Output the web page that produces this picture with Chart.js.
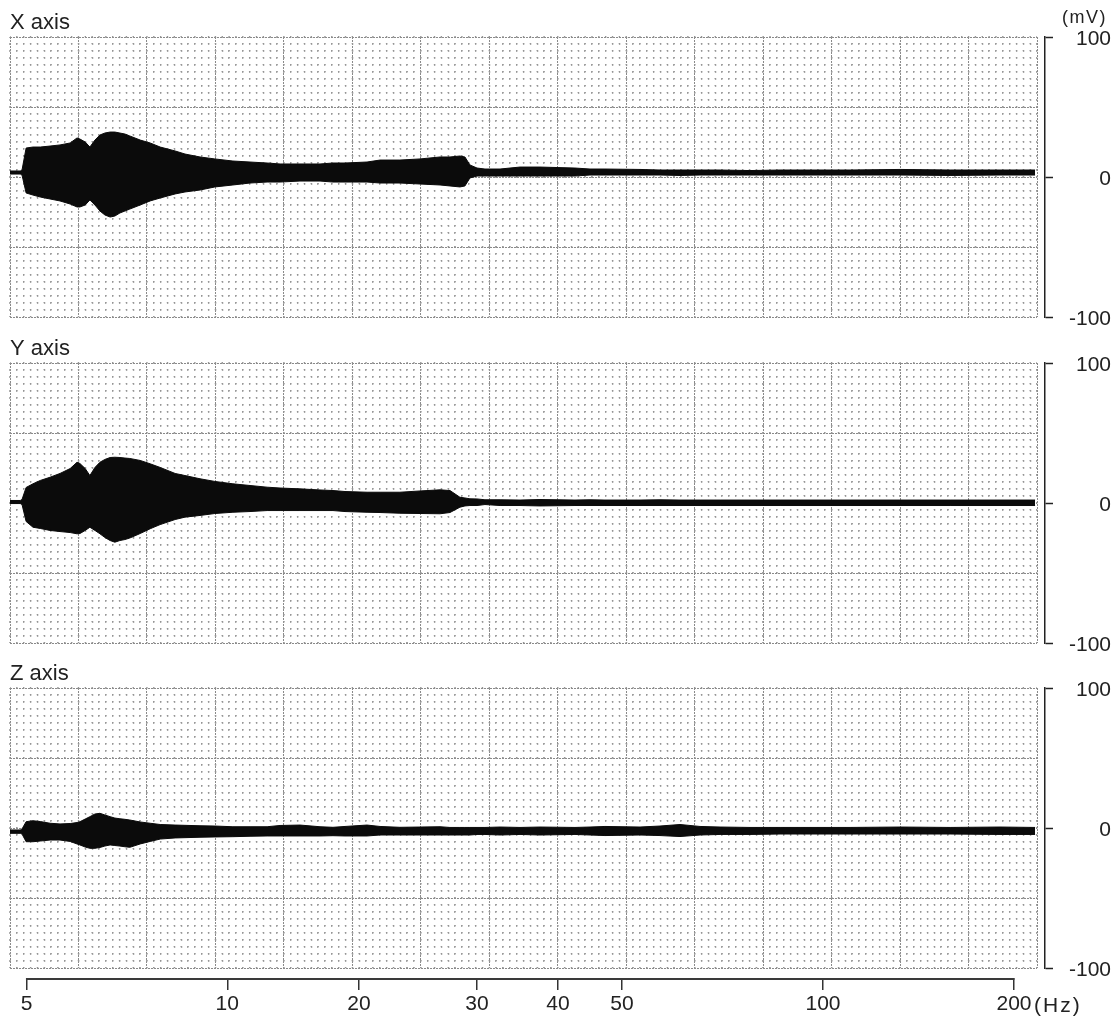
<!DOCTYPE html>
<html>
<head>
<meta charset="utf-8">
<title>Vibration sweep record – X / Y / Z axis</title>
<script src="https://cdn.jsdelivr.net/npm/chart.js@4.4.1/dist/chart.umd.min.js"></script>
<style>
  html, body { margin: 0; padding: 0; background: #fff; overflow: hidden; }
  body { width: 1119px; height: 1019px; position: relative; }
  canvas { position: absolute; left: 0; }
  .unit { position: absolute; font-family: "Liberation Sans", Arial, sans-serif; color: #222; white-space: nowrap; line-height: 1; }
</style>
</head>
<body>
<canvas id="panelX" width="1119" height="345" style="top:0px"></canvas>
<canvas id="panelY" width="1119" height="345" style="top:326px"></canvas>
<canvas id="panelZ" width="1119" height="368" style="top:651px"></canvas>
<div class="unit" style="left:1062px;top:8px;font-size:18px;letter-spacing:1.5px">(mV)</div>
<div class="unit" style="left:1034px;top:994px;font-size:21px;letter-spacing:2px">(Hz)</div>
<script>
// ---------------- data (read from the record) ----------------
const freqTicks = [5, 10, 20, 30, 40, 50, 100, 200];   // Hz tick labels
const ampTicks = [-100, 0, 100];                        // mV tick labels
const panelTitles = ['X axis', 'Y axis', 'Z axis'];

// sweep frequency of each envelope sample (Hz)
const freqHz = [4.72, 4.89, 4.92, 4.99, 5.11, 5.24, 5.42, 5.61, 5.81, 5.95,
  6.01, 6.12, 6.22, 6.33, 6.44, 6.55, 6.67, 6.78, 6.90, 7.02,
  7.14, 7.40, 7.66, 7.93, 8.35, 8.64, 9.10, 9.58, 10.30, 11.27,
  12.33, 13.20, 14.66, 16.29, 17.44, 18.58, 20.56, 21.50, 23.02, 24.67,
  26.42, 27.34, 28.29, 28.78, 29.28, 30.0, 30.86, 32.56, 34.95, 37.52,
  42.44, 44.72, 47.12, 53.20, 57.00, 61.07, 65.44, 70.12, 77.74, 86.23,
  92.38, 110.3, 132.3, 158.6, 190.1, 215.9];

// envelope of the response (mV): upper and lower edge of the trace
const xUpper = [4.3, 4.3, 5.0, 20.7, 21.4, 21.4, 22.1, 22.9, 24.3, 27.9,
  27.1, 25.0, 21.4, 26.4, 30.0, 31.4, 32.1, 32.1, 31.4, 30.7,
  29.3, 26.4, 24.3, 21.4, 18.6, 16.4, 14.3, 12.9, 11.4, 10.7,
  10.0, 9.3, 9.3, 9.3, 10.0, 10.0, 10.7, 12.1, 12.1, 12.9,
  14.3, 14.3, 15.0, 14.3, 8.6, 6.4, 5.7, 5.7, 7.1, 7.1,
  6.4, 5.7, 5.7, 5.4, 5.0, 5.0, 5.0, 5.0, 4.6, 5.0,
  5.0, 5.0, 5.4, 5.0, 5.0, 5.0];
const xLower = [2.1, 2.1, 1.4, -11.4, -12.9, -14.3, -15.7, -17.1, -19.3, -21.4,
  -21.4, -20.0, -16.4, -20.0, -24.3, -27.1, -28.6, -27.9, -25.7, -24.3,
  -22.9, -20.0, -17.1, -15.0, -12.1, -10.7, -9.3, -7.1, -5.7, -4.3,
  -3.6, -3.6, -2.9, -2.9, -3.6, -3.6, -3.6, -4.3, -4.3, -5.0,
  -5.7, -6.4, -7.1, -6.4, -0.7, 0.7, 0.7, 0.7, 0.7, 0.7,
  0.7, 1.4, 1.4, 1.4, 1.4, 1.1, 1.4, 1.4, 1.4, 1.4,
  1.4, 1.4, 1.4, 1.1, 1.4, 1.4];

const yUpper = [1.8, 1.8, 2.5, 11.1, 13.7, 16.1, 18.4, 21.1, 24.6, 29.1,
  28.2, 24.6, 19.6, 25.4, 29.1, 31.1, 32.5, 32.7, 32.5, 32.1,
  31.8, 30.4, 28.0, 25.4, 21.1, 19.6, 17.3, 15.4, 13.7, 12.5,
  11.3, 10.7, 10.1, 9.3, 8.9, 8.2, 7.7, 7.7, 7.7, 8.6,
  9.4, 8.9, 4.1, 3.6, 3.0, 2.9, 2.3, 2.3, 2.1, 2.5,
  2.1, 2.3, 2.1, 2.1, 2.3, 2.1, 2.1, 2.1, 2.1, 2.1,
  2.1, 2.1, 2.1, 2.1, 2.1, 2.1];
const yLower = [-0.4, -0.4, -1.1, -13.2, -17.3, -18.2, -19.6, -20.4, -21.1, -22.0,
  -21.8, -19.6, -17.3, -19.6, -22.0, -24.6, -26.8, -28.0, -26.8, -26.1,
  -25.0, -21.8, -18.4, -15.4, -11.8, -10.1, -8.9, -7.5, -6.6, -6.1,
  -5.4, -5.4, -5.4, -5.4, -5.4, -6.1, -6.6, -6.8, -7.3, -7.5,
  -7.7, -6.8, -3.0, -2.1, -1.8, -1.8, -1.1, -1.8, -1.8, -2.1,
  -1.8, -1.8, -1.8, -1.8, -1.8, -1.8, -1.8, -1.8, -1.8, -1.8,
  -1.8, -1.8, -1.8, -1.8, -1.8, -1.8];

const zUpper = [-1.4, -1.4, -0.7, 4.5, 5.2, 4.6, 3.4, 2.9, 3.2, 3.9,
  4.5, 6.4, 8.1, 10.0, 10.5, 9.3, 8.1, 7.1, 6.6, 6.2,
  5.7, 4.3, 3.4, 2.5, 2.1, 1.9, 1.6, 1.4, 0.9, 0.9,
  0.9, 1.8, 2.1, 0.9, 0.5, 1.1, 2.1, 1.1, 0.5, 0.7,
  0.9, 0.4, 0.4, 0.4, 0.4, 0.4, 0.4, 0.7, 0.4, 0.7,
  0.4, 0.7, 1.1, 0.7, 1.4, 2.5, 1.1, 0.7, 0.4, 0.4,
  0.4, 0.4, 0.7, 0.4, 0.7, 0.4];
const zLower = [-3.8, -3.8, -4.3, -9.8, -9.8, -9.3, -8.6, -8.6, -9.6, -11.4,
  -12.1, -13.6, -14.5, -14.5, -13.9, -12.9, -12.1, -12.5, -12.9, -13.4,
  -13.8, -11.4, -9.6, -7.9, -7.1, -6.9, -6.6, -6.4, -6.2, -5.9,
  -5.7, -5.7, -5.7, -5.7, -5.5, -5.7, -5.7, -5.0, -5.0, -5.0,
  -5.0, -5.0, -5.0, -5.0, -5.0, -4.6, -4.6, -5.0, -4.6, -5.0,
  -4.6, -5.0, -5.4, -5.0, -5.4, -6.1, -5.0, -4.6, -4.6, -4.3,
  -4.3, -4.3, -4.3, -4.3, -4.6, -4.6];

// ---------------- recorder frequency axis (layout) ----------------
// Where each frequency tick sits across the plot width (the chart paper is not a pure log scale).
const tickFractions = [0.01626, 0.21159, 0.33982, 0.45473, 0.53359, 0.59591, 0.79163, 0.97760];

const FONT = '"Liberation Sans", Arial, sans-serif';
Chart.defaults.font.family = FONT;

const LinearScale = Chart.LinearScale || Chart.registry.getScale('linear');
class SweepScale extends LinearScale {
  static id = 'sweep';
  static defaults = {};
  _seg(v) {
    const t = freqTicks; let i = 0;
    if (v >= t[t.length - 1]) i = t.length - 2;
    else if (v > t[0]) { while (v > t[i + 1]) i++; }
    return i;
  }
  _frac(v) {
    const t = freqTicks, f = tickFractions, i = this._seg(v);
    const l0 = Math.log10(t[i]), l1 = Math.log10(t[i + 1]);
    return f[i] + (Math.log10(v) - l0) / (l1 - l0) * (f[i + 1] - f[i]);
  }
  buildTicks() { return freqTicks.map(v => ({ value: v })); }
  getPixelForValue(value) { return this.getPixelForDecimal(this._frac(value)); }
  getValueForPixel(pixel) {
    const d = this.getDecimalForPixel(pixel), t = freqTicks, f = tickFractions;
    let i = 0;
    if (d >= f[f.length - 1]) i = f.length - 2; else if (d > f[0]) { while (d > f[i + 1]) i++; }
    const l0 = Math.log10(t[i]), l1 = Math.log10(t[i + 1]);
    return Math.pow(10, l0 + (d - f[i]) / (f[i + 1] - f[i]) * (l1 - l0));
  }
  drawBorder() {
    const b = this.options.border;
    if (!b.display) return;
    const ctx = this.ctx, w = b.width;
    const x1 = this.getPixelForValue(freqTicks[0]) - 0.75;
    const x2 = this.getPixelForValue(freqTicks[freqTicks.length - 1]) + 0.75;
    const y = this.top;
    ctx.save();
    ctx.lineWidth = w; ctx.strokeStyle = b.color;
    ctx.beginPath(); ctx.moveTo(x1, y); ctx.lineTo(x2, y); ctx.stroke();
    ctx.restore();
  }
}
Chart.register(SweepScale);

function paperAxes() {
  const major = '#8a8a8a', minor = '#959595';
  return {
    gx:  { type: 'linear', position: 'top', min: 0, max: 15, ticks: { display: false, stepSize: 1 },
           grid: { color: major, lineWidth: 1, drawTicks: false }, border: { display: false, dash: [2, 1] } },
    gxm: { type: 'linear', position: 'top', min: 0, max: 150, ticks: { display: false, stepSize: 1 },
           grid: { color: minor, lineWidth: 1.3, drawTicks: false }, border: { display: false, dash: [1.4, 5.6], dashOffset: 0.7 } },
    gy:  { type: 'linear', position: 'left', min: 0, max: 4, ticks: { display: false, stepSize: 1 },
           grid: { color: major, lineWidth: 1, drawTicks: false }, border: { display: false, dash: [2, 1] } },
    gym: { type: 'linear', position: 'left', min: 0, max: 40, ticks: { display: false, stepSize: 1 },
           grid: { color: minor, lineWidth: 1.3, drawTicks: false }, border: { display: false, dash: [1.4, 5.447], dashOffset: 0.7 } }
  };
}

function makePanel(canvasId, title, upper, lower, withFreqAxis) {
  const scales = paperAxes();
  scales.x = {
    type: 'sweep', position: 'bottom', weight: 2, display: withFreqAxis,
    grid: { display: true, drawOnChartArea: false, drawTicks: true, tickLength: 11, tickColor: '#333', tickWidth: 1.5, lineWidth: 1.5 },
    border: { display: true, color: '#3a3a3a', width: 2 },
    ticks: { padding: 2, color: '#222', font: { size: 21, family: FONT }, autoSkip: false, maxRotation: 0, minRotation: 0 }
  };
  if (withFreqAxis) {
    scales.x.afterFit = s => { s.height = 40; };
    scales.xgap = { type: 'linear', position: 'bottom', weight: 1, min: 0, max: 1,
      ticks: { display: false }, grid: { display: false, drawTicks: false }, border: { display: false },
      afterFit: s => { s.height = 11; } };
  }
  scales.ygap = { type: 'linear', position: 'right', weight: 1, min: -100, max: 100,
    ticks: { display: false }, grid: { display: false, drawTicks: false }, border: { display: false },
    afterFit: s => { s.width = 8; } };
  scales.y = { type: 'linear', position: 'right', weight: 2, min: -100, max: 100,
    afterBuildTicks: s => { s.ticks = ampTicks.map(v => ({ value: v })); },
    afterFit: s => { s.width = 66; },
    grid: { drawOnChartArea: false, drawTicks: true, tickLength: 8, tickColor: '#222', tickWidth: 1.5 },
    border: { display: true, color: '#222', width: 1.5 },
    ticks: { crossAlign: 'far', padding: 15, labelOffset: 2, color: '#222', font: { size: 21, family: FONT } } };

  const common = { borderColor: '#0b0b0b', backgroundColor: '#0b0b0b', borderWidth: 1, pointRadius: 0,
    tension: 0, xAxisID: 'x', yAxisID: 'y' };
  new Chart(document.getElementById(canvasId), {
    type: 'line',
    data: {
      datasets: [
        Object.assign({ label: title + ' (upper)', fill: false,
          data: freqHz.map((f, i) => ({ x: f, y: upper[i] })) }, common),
        Object.assign({ label: title + ' (lower)', fill: '-1',
          data: freqHz.map((f, i) => ({ x: f, y: lower[i] })) }, common)
      ]
    },
    options: {
      responsive: false, animation: false, events: [],
      layout: { padding: { top: 10, left: 10, right: 8, bottom: withFreqAxis ? 0 : 28 } },
      plugins: {
        legend: { display: false }, tooltip: { enabled: false },
        title: { display: true, text: title, align: 'start', color: '#222',
          font: { size: 22, family: FONT, weight: 'normal' }, padding: { top: 0, bottom: 0.6 } }
      },
      scales
    }
  });
}

makePanel('panelX', panelTitles[0], xUpper, xLower, false);
makePanel('panelY', panelTitles[1], yUpper, yLower, false);
makePanel('panelZ', panelTitles[2], zUpper, zLower, true);
</script>
</body>
</html>
